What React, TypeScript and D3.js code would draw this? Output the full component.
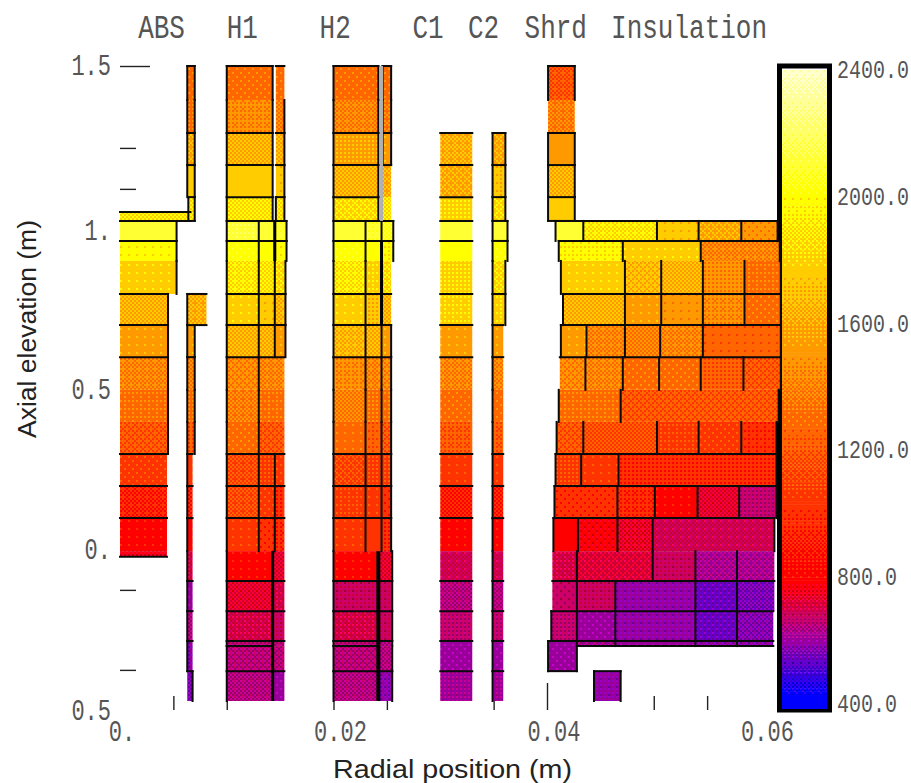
import * as d3 from "d3";
import { useEffect, useRef } from "react";

// axial mesh levels (m), rows below refer to them by index
const axialLevels = [
  1.5, 1.393, 1.289, 1.188, 1.087, 1.04, 1.012, 0.949, 0.886, 0.782, 0.684, 0.583, 0.48,
  0.379, 0.278, 0.177, 0.076, -0.028, -0.046, -0.122, -0.217, -0.311, -0.327, -0.406, -0.5,
];

// [top level, bottom level, radial edges (m), temperatures (K), which lines to draw]
// T top, B bottom, L left, R right, I interior verticals
type Row = [number, number, number[], number[], string];

const absRows: Row[] = [
  [5, 6, [0, 0.0066], [1880], "TB"],
  [6, 7, [0, 0.0053], [2100], "TR"],
  [7, 8, [0, 0.0053], [1980], "TR"],
  [8, 9, [0, 0.0053], [1770], "R"],
  [9, 10, [0, 0.0045], [1640], "TR"],
  [10, 11, [0, 0.0045], [1520], "TR"],
  [11, 12, [0, 0.0045], [1400], "TR"],
  [12, 13, [0, 0.0045], [1310], "R"],
  [13, 14, [0, 0.0045], [1170], "R"],
  [14, 15, [0, 0.0044], [1050], "T"],
  [15, 16, [0, 0.0044], [920], "T"],
  [16, 17, [0, 0.0044], [800], "T"],
  [17, 18, [0, 0.0044], [750], "B"],
];

const cladRows: Row[] = [
  [0, 1, [0.0063, 0.007], [1300], "TLR"],
  [1, 2, [0.0063, 0.007], [1330], "LR"],
  [2, 3, [0.0063, 0.007], [1600], "TLR"],
  [3, 4, [0.0063, 0.007], [1760], "TLR"],
  [4, 6, [0.0064, 0.007], [1900], "TLRB"],
  [9, 10, [0.0063, 0.0081], [1620], "TLB"],
  [10, 11, [0.0063, 0.007], [1520], "LR"],
  [11, 12, [0.0063, 0.007], [1410], "TLR"],
  [12, 13, [0.0063, 0.007], [1330], "LR"],
  [13, 14, [0.0063, 0.007], [1200], "LR"],
  [14, 15, [0.0063, 0.0068], [1040], "TL"],
  [15, 16, [0.0063, 0.0068], [920], "TL"],
  [16, 17, [0.0063, 0.0068], [800], "TL"],
  [17, 19, [0.0063, 0.0068], [700], "L"],
  [19, 20, [0.0063, 0.0068], [600], "TL"],
  [20, 21, [0.0063, 0.0068], [640], "TL"],
  [21, 23, [0.0063, 0.0068], [580], "TL"],
  [23, 24, [0.0063, 0.0068], [560], "TR"],
];

const h1Rows: Row[] = [
  [0, 1, [0.01, 0.0143], [1300], "TLR"],
  [1, 2, [0.01, 0.0143], [1430], "LR"],
  [2, 3, [0.01, 0.0143], [1640], "TLR"],
  [3, 4, [0.01, 0.0143], [1760], "TLR"],
  [4, 6, [0.01, 0.0143], [1880], "TLR"],
  [0, 1, [0.0146, 0.0154], [1290], "T"],
  [1, 2, [0.0146, 0.0154], [1380], "R"],
  [2, 3, [0.0146, 0.0154], [1620], "TR"],
  [3, 4, [0.0146, 0.0154], [1740], "TR"],
  [4, 6, [0.0146, 0.0154], [1860], "TLR"],
  [6, 7, [0.01, 0.013, 0.0145, 0.0156], [2120, 2100, 2080], "TLIR"],
  [7, 8, [0.01, 0.013, 0.0145, 0.0156], [2010, 2000, 1990], "TLIR"],
  [8, 9, [0.01, 0.013, 0.0145, 0.0155], [1900, 1880, 1850], "LIR"],
  [9, 10, [0.01, 0.013, 0.0145, 0.0155], [1770, 1740, 1650], "TLIR"],
  [10, 11, [0.01, 0.013, 0.0145, 0.0155], [1640, 1640, 1520], "TLIR"],
  [11, 12, [0.01, 0.013, 0.0154], [1420, 1410], "TLI"],
  [12, 13, [0.01, 0.013, 0.0154], [1370, 1320], "LI"],
  [13, 14, [0.01, 0.013, 0.0154], [1290, 1180], "LI"],
  [14, 15, [0.01, 0.013, 0.0145, 0.0154], [1130, 1090, 1050], "TLI"],
  [15, 16, [0.01, 0.013, 0.0145, 0.0154], [1130, 1050, 960], "TLI"],
  [16, 17, [0.01, 0.013, 0.0145, 0.0154], [1040, 1000, 950], "TLI"],
  [17, 19, [0.01, 0.0143, 0.0154], [800, 730], "L"],
  [19, 20, [0.01, 0.0143, 0.0154], [730, 700], "TL"],
  [20, 21, [0.01, 0.0143, 0.0154], [700, 680], "TL"],
  [21, 22, [0.01, 0.0143, 0.0154], [650, 650], "TL"],
  [22, 23, [0.01, 0.0143], [650], "TL"],
  [22, 23, [0.0143, 0.0154], [650], ""],
  [23, 24, [0.01, 0.0143, 0.0154], [640, 600], "TL"],
];

const h2Rows: Row[] = [
  [0, 1, [0.02, 0.0242], [1290], "TLR"],
  [1, 2, [0.02, 0.0242], [1400], "LR"],
  [2, 3, [0.02, 0.0242], [1570], "TLR"],
  [3, 4, [0.02, 0.0242], [1640], "TLR"],
  [4, 6, [0.02, 0.0242], [1850], "TLR"],
  [0, 1, [0.0246, 0.0254], [1290], "TLR"],
  [1, 2, [0.0246, 0.0254], [1350], "LR"],
  [2, 3, [0.0246, 0.0254], [1520], "TLR"],
  [3, 4, [0.0246, 0.0254], [1620], "T"],
  [4, 6, [0.0246, 0.0254], [1880], ""],
  [6, 7, [0.02, 0.023, 0.0245, 0.0256], [2100, 2080, 2050], "TLIR"],
  [7, 8, [0.02, 0.023, 0.0245, 0.0256], [2010, 2000, 1960], "TLIR"],
  [8, 9, [0.02, 0.023, 0.0245, 0.0254], [1900, 1800, 1850], "LI"],
  [9, 10, [0.02, 0.023, 0.0245, 0.0254], [1770, 1700, 1640], "TLI"],
  [10, 11, [0.02, 0.023, 0.0245, 0.0254], [1650, 1640, 1520], "TLIR"],
  [11, 12, [0.02, 0.023, 0.0245, 0.0254], [1430, 1400, 1420], "TLIR"],
  [12, 13, [0.02, 0.023, 0.0245, 0.0254], [1390, 1330, 1320], "LIR"],
  [13, 14, [0.02, 0.023, 0.0245, 0.0254], [1280, 1220, 1170], "LIR"],
  [14, 15, [0.02, 0.023, 0.0245, 0.0254], [1120, 1090, 1080], "TLIR"],
  [15, 16, [0.02, 0.023, 0.0245, 0.0254], [1060, 1040, 1000], "TLIR"],
  [16, 17, [0.02, 0.023, 0.0245, 0.0254], [1040, 1020, 960], "TLIR"],
  [17, 19, [0.02, 0.0242, 0.0255], [800, 730], "LR"],
  [19, 20, [0.02, 0.0242, 0.0255], [680, 680], "TLR"],
  [20, 21, [0.02, 0.0242, 0.0255], [700, 680], "TLR"],
  [21, 22, [0.02, 0.0242, 0.0255], [650, 640], "TLR"],
  [22, 23, [0.02, 0.0242], [650], "TL"],
  [22, 23, [0.0242, 0.0255], [640], "R"],
  [23, 24, [0.02, 0.0242, 0.0255], [640, 580], "TLR"],
];

const c1Rows: Row[] = [
  [2, 3, [0.03, 0.033], [1620], "T"],
  [3, 4, [0.03, 0.033], [1600], "T"],
  [4, 6, [0.03, 0.033], [1820], "T"],
  [6, 7, [0.03, 0.033], [2100], "T"],
  [7, 8, [0.03, 0.033], [2000], "T"],
  [8, 9, [0.03, 0.033], [1820], ""],
  [9, 10, [0.03, 0.033], [1800], "T"],
  [10, 11, [0.03, 0.033], [1520], "T"],
  [11, 12, [0.03, 0.033], [1400], "T"],
  [12, 13, [0.03, 0.033], [1290], ""],
  [13, 14, [0.03, 0.033], [1190], ""],
  [14, 15, [0.03, 0.033], [1040], "T"],
  [15, 16, [0.03, 0.033], [910], "T"],
  [16, 17, [0.03, 0.033], [800], "T"],
  [17, 19, [0.03, 0.033], [690], ""],
  [19, 20, [0.03, 0.033], [640], "T"],
  [20, 21, [0.03, 0.033], [660], "T"],
  [21, 23, [0.03, 0.033], [600], "T"],
  [23, 24, [0.03, 0.033], [610], "T"],
];

const c2Rows: Row[] = [
  [2, 3, [0.0349, 0.0361], [1600], "TLR"],
  [3, 4, [0.0349, 0.0361], [1720], "TLR"],
  [4, 6, [0.0349, 0.0361], [1850], "TLR"],
  [6, 7, [0.0349, 0.0363], [2100], "TLR"],
  [7, 8, [0.0349, 0.0363], [2010], "TLR"],
  [8, 9, [0.0349, 0.0361], [1850], "LR"],
  [9, 10, [0.0349, 0.0361], [1800], "TLR"],
  [10, 11, [0.0349, 0.0359], [1520], "TL"],
  [11, 12, [0.0349, 0.0359], [1400], "TL"],
  [12, 13, [0.0349, 0.0359], [1290], "L"],
  [13, 14, [0.0349, 0.0359], [1190], "L"],
  [14, 15, [0.0349, 0.0359], [1040], "TL"],
  [15, 16, [0.0349, 0.0359], [910], "TL"],
  [16, 17, [0.0349, 0.0359], [800], "TL"],
  [17, 19, [0.0349, 0.0359], [690], "L"],
  [19, 20, [0.0349, 0.0359], [640], "TL"],
  [20, 21, [0.0349, 0.0359], [660], "TL"],
  [21, 23, [0.0349, 0.0359], [600], "TL"],
  [23, 24, [0.0349, 0.0359], [610], "TL"],
];

const shieldRows: Row[] = [
  [0, 1, [0.0401, 0.0426], [1160], "TLR"],
  [1, 2, [0.0401, 0.0426], [1380], ""],
  [2, 3, [0.0401, 0.0426], [1510], "TLR"],
  [3, 4, [0.0401, 0.0426], [1640], "TLR"],
  [4, 6, [0.0401, 0.0426], [1760], "TLRB"],
];

const insulationRows: Row[] = [
  [6, 7, [0.0408, 0.0434, 0.0503, 0.0542, 0.0582, 0.0616], [2100, 1900, 1740, 1600, 1480], "TLIR"],
  [7, 8, [0.0411, 0.0471, 0.0544, 0.0618], [1950, 1770, 1400], "TLIR"],
  [8, 9, [0.0413, 0.0473, 0.0507, 0.0546, 0.0585, 0.0619], [1770, 1660, 1630, 1450, 1320], "LIR"],
  [9, 10, [0.0415, 0.0473, 0.0507, 0.0546, 0.0585, 0.0619], [1640, 1530, 1500, 1440, 1290], "TLIR"],
  [10, 11, [0.0413, 0.0437, 0.0473, 0.0506, 0.0546, 0.0619], [1520, 1410, 1390, 1400, 1250], "TLIR"],
  [11, 12, [0.0412, 0.0436, 0.0471, 0.0505, 0.0544, 0.0584, 0.0619], [1420, 1400, 1300, 1290, 1210, 1170], "TIR"],
  [12, 13, [0.0411, 0.0469, 0.0617], [1310, 1180], "LIR"],
  [13, 14, [0.0409, 0.0434, 0.0503, 0.0542, 0.0582, 0.0615], [1180, 1140, 1060, 1050, 980], "LIR"],
  [14, 15, [0.0408, 0.0432, 0.0467, 0.0615], [1090, 1040, 960], "TLIR"],
  [15, 16, [0.0407, 0.0466, 0.0501, 0.0541, 0.058, 0.0615], [1000, 950, 800, 730, 660], "TLIR"],
  [16, 17, [0.0406, 0.0429, 0.0466, 0.0499, 0.0613], [780, 770, 740, 690], "TLIR"],
  [17, 19, [0.0405, 0.0428, 0.0499, 0.0539, 0.0578, 0.0613], [700, 720, 680, 620, 620], "I"],
  [19, 20, [0.0405, 0.0428, 0.0464, 0.0539, 0.0578, 0.0613], [670, 680, 590, 540, 560], "TI"],
  [20, 21, [0.0404, 0.0428, 0.0464, 0.0539, 0.0578, 0.0612], [660, 600, 590, 540, 570], "TLI"],
  [21, 22, [0.0428, 0.0464, 0.0539, 0.0578, 0.0612], [620, 600, 580, 580], "TBI"],
  [21, 23, [0.0401, 0.0428], [600], "TLRB"],
  [23, 24, [0.0444, 0.0469], [590], "TLR"],
];

const meshRows = [absRows, cladRows, h1Rows, h2Rows, c1Rows, c2Rows, shieldRows, insulationRows].flat();

// heavy gap lines: [radius, top level, bottom level, width, colour]
const gapLines: [number, number, number, number, string][] = [
  [0.0245, 0, 6, 3, "#b0b0b0"],
  [0.0145, 6, 8, 3, "#000"],
  [0.0143, 17, 24, 3, "#000"],
  [0.0245, 7, 10, 3, "#000"],
  [0.0242, 17, 24, 4, "#000"],
];

const materialLabels = [
  { name: "ABS", r: 0.0017 },
  { name: "H1", r: 0.01 },
  { name: "H2", r: 0.0187 },
  { name: "C1", r: 0.0274 },
  { name: "C2", r: 0.0326 },
  { name: "Shrd", r: 0.0379 },
  { name: "Insulation", r: 0.046 },
];

const yMajorTicks = [1.5];
const yMinorTicks = [1.242, 1.113, -0.15, -0.402];
const xLongTicks = [0.02, 0.04];
const xShortTicks = [0.005, 0.01, 0.025, 0.035, 0.05, 0.055];
const xLabels = [
  { v: 0, text: "0." },
  { v: 0.02, text: "0.02" },
  { v: 0.04, text: "0.04" },
  { v: 0.06, text: "0.06" },
];
const yLabels = [
  { v: 1.5, text: "1.5" },
  { v: 0.98, text: "1." },
  { v: 0.48, text: "0.5" },
  { v: -0.025, text: "0." },
  { v: -0.53, text: "0.5" },
];
const colorTicks = [2400, 2000, 1600, 1200, 800, 400];

const width = 911;
const height = 783;

const xScale = d3.scaleLinear().domain([0, 0.06]).range([120, 760.5]);
const yScale = d3.scaleLinear().domain([-0.5, 1.5]).range([701, 66]);
const barY = d3.scaleLinear().domain([400, 2400]).range([704, 70]);

const heat = d3
  .scaleLinear<string>()
  .domain([420, 600, 780, 2000, 2400])
  .range(["#0000ff", "#a000a0", "#ff0000", "#ffff00", "#ffffcc"])
  .clamp(true);

// the picture is a web-safe palette dither, so each temperature gets a small bayer tile
const bayer = [
  [0, 8, 2, 10],
  [12, 4, 14, 6],
  [3, 11, 1, 9],
  [15, 7, 13, 5],
];
const dot = 2;
const tile = (t: number) => {
  const c = d3.rgb(heat(t));
  return bayer.flatMap((row, j) =>
    row.map((b, i) => {
      const q = (v: number) => {
        const lo = Math.floor(v / 51) * 51;
        return Math.min(255, lo + ((v - lo) / 51 > (b + 0.5) / 16 ? 51 : 0));
      };
      return { i, j, fill: `rgb(${q(c.r)},${q(c.g)},${q(c.b)})` };
    }),
  );
};

const barStep = 10;
const barTemps = d3.range(400, 2400, barStep);
const allTemps = Array.from(new Set([...meshRows.flatMap((r) => r[3]), ...barTemps]));

const mono = "'Liberation Mono', monospace";
const tall = (x: number, y: number, anchor = "start") => ({
  transform: `translate(${x},${y}) scale(1,1.3)`,
  textAnchor: anchor as any,
  fontFamily: mono,
  fill: "#555",
});

const segments = (row: Row) => {
  const [top, bottom, edges, , marks] = row;
  const y0 = yScale(axialLevels[top]);
  const y1 = yScale(axialLevels[bottom]);
  const x0 = xScale(edges[0]);
  const x1 = xScale(edges[edges.length - 1]);
  const out: number[][] = [];
  if (marks.includes("T")) out.push([x0, y0, x1, y0]);
  if (marks.includes("B")) out.push([x0, y1, x1, y1]);
  if (marks.includes("L")) out.push([x0, y0, x0, y1]);
  if (marks.includes("R")) out.push([x1, y0, x1, y1]);
  if (marks.includes("I"))
    edges.slice(1, -1).forEach((e) => out.push([xScale(e), y0, xScale(e), y1]));
  return out;
};

const App = () => {
  const yMajor = useRef<SVGGElement>(null);
  const yMinor = useRef<SVGGElement>(null);
  const xLong = useRef<SVGGElement>(null);
  const xShort = useRef<SVGGElement>(null);

  useEffect(() => {
    d3.select(yMajor.current!).call(
      d3.axisRight(yScale).tickValues(yMajorTicks).tickSize(30).tickFormat(() => ""),
    );
    d3.select(yMinor.current!).call(
      d3.axisRight(yScale).tickValues(yMinorTicks).tickSize(16).tickFormat(() => ""),
    );
    d3.select(xLong.current!).call(
      d3.axisTop(xScale).tickValues(xLongTicks).tickSize(27).tickFormat(() => ""),
    );
    d3.select(xShort.current!).call(
      d3.axisTop(xScale).tickValues(xShortTicks).tickSize(14).tickFormat(() => ""),
    );
    d3.selectAll(".tick-axis .domain").remove();
    d3.selectAll(".tick-axis line").attr("stroke", "#222").attr("stroke-width", 1.4);
  }, []);

  return (
    <svg
      width={width}
      height={height}
      style={{ position: "absolute", left: 0, top: 0, background: "#fff" }}
    >
      <defs>
        {allTemps.map((t) => (
          <pattern
            key={t}
            id={`t${t}`}
            patternUnits="userSpaceOnUse"
            width={dot * 4}
            height={dot * 4}
          >
            {tile(t).map((p) => (
              <rect
                key={`${p.i}-${p.j}`}
                x={p.i * dot}
                y={p.j * dot}
                width={dot}
                height={dot}
                fill={p.fill}
              />
            ))}
          </pattern>
        ))}
      </defs>

      <g className="tick-axis" ref={yMajor} transform="translate(120,0)" />
      <g className="tick-axis" ref={yMinor} transform="translate(120,0)" />
      <g className="tick-axis" ref={xLong} transform="translate(0,710)" />
      <g className="tick-axis" ref={xShort} transform="translate(0,710)" />

      {/* colour bar */}
      <rect x={779.5} y={66} width={50} height={644} fill="none" stroke="#000" strokeWidth={5} />
      <rect x={782} y={barY(400)} width={45} height={5} fill="url(#t400)" />
      {barTemps.map((t) => (
        <rect
          key={t}
          x={782}
          y={barY(t + barStep)}
          width={45}
          height={barY(t) - barY(t + barStep) + 0.5}
          fill={`url(#t${t})`}
        />
      ))}

      {/* mesh cells */}
      {meshRows.map((row, i) =>
        row[3].map((t, k) => (
          <rect
            key={`${i}-${k}`}
            x={xScale(row[2][k])}
            y={yScale(axialLevels[row[0]])}
            width={xScale(row[2][k + 1]) - xScale(row[2][k])}
            height={yScale(axialLevels[row[1]]) - yScale(axialLevels[row[0]])}
            fill={`url(#t${t})`}
          />
        )),
      )}
      <g stroke="#0a0a0a" strokeWidth={2} strokeLinecap="square">
        {meshRows.flatMap(segments).map((s, i) => (
          <line key={i} x1={s[0]} y1={s[1]} x2={s[2]} y2={s[3]} />
        ))}
      </g>
      {gapLines.map(([r, a, b, w, c], i) => (
        <line
          key={i}
          x1={xScale(r)}
          x2={xScale(r)}
          y1={yScale(axialLevels[a])}
          y2={yScale(axialLevels[b])}
          stroke={c}
          strokeWidth={w}
        />
      ))}

      {/* labels */}
      {materialLabels.map((m) => (
        <text key={m.name} {...tall(xScale(m.r), 38)} fontSize={26}>
          {m.name}
        </text>
      ))}
      {yLabels.map((l, i) => (
        <text key={i} {...tall(111, yScale(l.v) + 9, "end")} fontSize={22}>
          {l.text}
        </text>
      ))}
      {xLabels.map((l) => (
        <text key={l.v} {...tall(xScale(l.v) + (l.v === 0 ? 2 : 7), 741, "middle")} fontSize={22}>
          {l.text}
        </text>
      ))}
      {colorTicks.map((t) => (
        <text key={t} {...tall(837, barY(t) + 8)} fontSize={20}>
          {`${t}.0`}
        </text>
      ))}

      <text
        x={333}
        y={778}
        fontFamily="'Liberation Sans', Arial, sans-serif"
        fontSize={25}
        textLength={239}
        lengthAdjust="spacingAndGlyphs"
        fill="#222"
      >
        Radial position (m)
      </text>
      <text
        transform="translate(36,438) rotate(-90)"
        fontFamily="'Liberation Sans', Arial, sans-serif"
        fontSize={26}
        textLength={218}
        lengthAdjust="spacingAndGlyphs"
        fill="#222"
      >
        Axial elevation (m)
      </text>
    </svg>
  );
};

export default App;
